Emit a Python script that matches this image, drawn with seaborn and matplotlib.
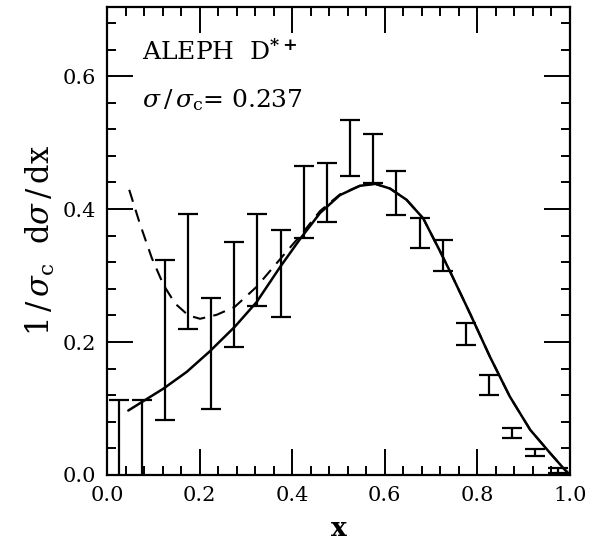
import numpy as np
import pandas as pd
import matplotlib
matplotlib.use("Agg")
import matplotlib.pyplot as plt
import seaborn as sns

# data bins (x centres) with values and symmetric errors
x_bins = [0.025, 0.075, 0.125, 0.175, 0.225, 0.275, 0.325, 0.375, 0.425, 0.475,
          0.525, 0.575, 0.625, 0.675, 0.725, 0.775, 0.825, 0.875, 0.925, 0.975]
y_vals = [0.040, 0.040, 0.203, 0.306, 0.183, 0.272, 0.323, 0.303, 0.411, 0.425,
          0.492, 0.476, 0.424, 0.364, 0.330, 0.212, 0.135, 0.063, 0.034, 0.007]
y_errs = [0.073, 0.073, 0.121, 0.087, 0.083, 0.079, 0.069, 0.065, 0.054, 0.045,
          0.042, 0.037, 0.033, 0.023, 0.023, 0.017, 0.015, 0.008, 0.005, 0.004]

# solid curve
solid_x = [0.046, 0.122, 0.172, 0.222, 0.276, 0.323, 0.374, 0.417, 0.460, 0.503,
           0.546, 0.579, 0.611, 0.647, 0.683, 0.719, 0.741, 0.784, 0.827, 0.870,
           0.914, 0.957, 0.986, 1.000]
solid_y = [0.097, 0.130, 0.155, 0.186, 0.223, 0.260, 0.313, 0.355, 0.394, 0.421,
           0.435, 0.438, 0.431, 0.414, 0.386, 0.337, 0.306, 0.243, 0.178, 0.118,
           0.068, 0.033, 0.010, 0.000]

# dashed curve
dash_x = [0.048, 0.071, 0.097, 0.122, 0.147, 0.176, 0.201, 0.237, 0.276, 0.323,
          0.384, 0.420, 0.460, 0.503, 0.546, 0.579, 0.611, 0.647, 0.683, 0.719,
          0.741, 0.784, 0.827, 0.870, 0.914, 0.957, 0.986, 1.000]
dash_y = [0.429, 0.378, 0.326, 0.286, 0.258, 0.240, 0.235, 0.241, 0.253, 0.283,
          0.333, 0.362, 0.397, 0.422, 0.435, 0.438, 0.431, 0.414, 0.386, 0.337,
          0.306, 0.243, 0.178, 0.118, 0.068, 0.033, 0.010, 0.000]

x_ticks = [0.0, 0.2, 0.4, 0.6, 0.8, 1.0]
y_ticks = [0.0, 0.2, 0.4, 0.6]

sns.set_style("ticks")
plt.rcParams['font.family'] = ['DejaVu Serif']
plt.rcParams['mathtext.fontset'] = 'dejavuserif'
plt.rcParams['text.color'] = 'black'
plt.rcParams['axes.labelcolor'] = 'black'

fig = plt.figure(figsize=(6.08, 5.55), dpi=100)
ax = fig.add_axes([107/608, 80/555, 463/608, 468/555])

sns.lineplot(x=solid_x, y=solid_y, ax=ax, color='black', lw=1.8, sort=False)
sns.lineplot(x=dash_x, y=dash_y, ax=ax, color='black', lw=1.5, sort=False,
             dashes=False, linestyle=(0, (6, 4)))
ax.errorbar(x_bins, y_vals, yerr=y_errs, fmt='none', ecolor='black',
            elinewidth=1.6, capsize=7, capthick=1.6)

ax.set_xlim(0, 1.0)
ax.set_ylim(0, 0.704)
ax.set_xticks(x_ticks)
ax.set_yticks(y_ticks)
ax.set_xticklabels([f"{v:.1f}" for v in x_ticks])
ax.set_yticklabels([f"{v:.1f}" for v in y_ticks])
ax.set_xticks(np.arange(0, 1.0001, 0.04), minor=True)
ax.set_yticks(np.arange(0, 0.70, 0.04), minor=True)
ax.tick_params(which='both', direction='in', top=True, right=True, width=1.4,
               labelsize=15, colors='black')
ax.tick_params(which='major', length=19, pad=8)
ax.tick_params(which='minor', length=6.5)
for s in ax.spines.values():
    s.set_linewidth(1.6)
    s.set_color('black')

ax.set_xlabel('x', fontsize=19, fontweight='bold', labelpad=8)
ax.set_ylabel(r'$1\,/\,\sigma_{\rm c}\ \ {\rm d}\sigma\,/\,{\rm dx}$', fontsize=22, labelpad=4)

ax.text(0.076, 0.624, r'ALEPH  D$^{\mathbf{*+}}$', fontsize=18)
ax.text(0.076, 0.553, r'$\sigma\,/\,\sigma_{\rm c}$= 0.237', fontsize=18)

fig.savefig('out.png', dpi=100)
